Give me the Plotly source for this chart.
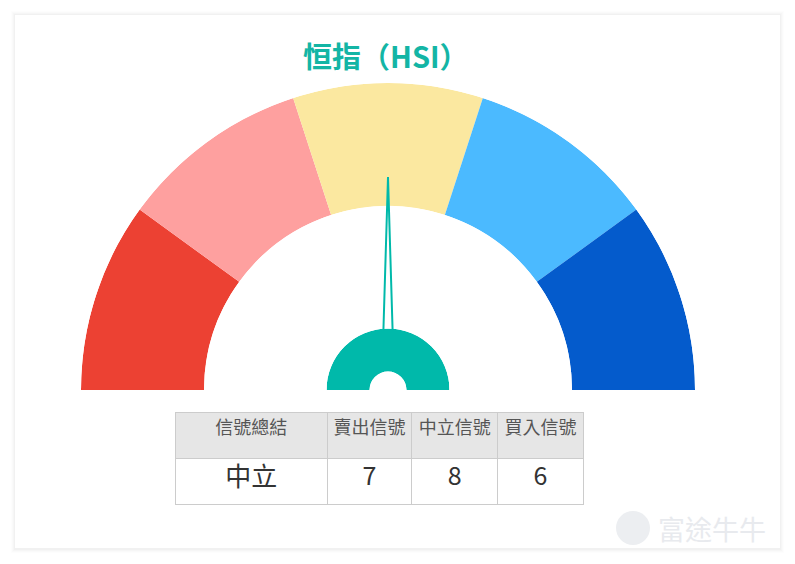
import math
import plotly.graph_objects as go

# ---- data ----
zones = ["強烈賣出", "賣出", "中立", "買入", "強烈買入"]
zone_colors = ["#ec4133", "#fea09f", "#fbe8a0", "#4bbaff", "#045bcc"]
zone_span = [20, 20, 20, 20, 20]          # gauge scale 0-100, five equal zones
gauge_value = 50                           # needle position on 0-100
title_text = "恒指（HSI）"
table_header = ["信號總結", "賣出信號", "中立信號", "買入信號"]
table_values = ["中立", "7", "8", "6"]

# page is offset 8px by the browser's default body margin
OFF = 8
W, H = 795 - OFF, 564 - OFF

def X(p):
    return (p - OFF) / W

def Y(p):
    return 1 - (p - OFF) / H

cx, cy = 388, 390
R_out, R_in = 307, 184
hub_out, hub_in = 61.5, 18.5
needle_len, needle_base_r, needle_half = 213, 60, 4.6
teal = "#00b9aa"

def dom_x(a, b):
    return [X(a), X(b)]

def dom_y(top, bottom):
    return [Y(bottom), Y(top)]

# value -> angle (0 -> 180deg on the left, 100 -> 0deg on the right)
def v2theta(v):
    return 180 - v * 180 / 100

starts = [sum(zone_span[:i]) for i in range(len(zone_span))]
thetas = [v2theta(s + w / 2) for s, w in zip(starts, zone_span)]
widths = [w * 180 / 100 for w in zone_span]

fig = go.Figure()

fig.add_trace(go.Barpolar(
    r=[1] * len(zones), theta=thetas, width=widths,
    marker=dict(color=zone_colors, line=dict(width=0)),
    subplot="polar", hoverinfo="text", text=zones, showlegend=False))

# hub
fig.add_trace(go.Barpolar(
    r=[1], theta=[90], width=[180],
    marker=dict(color=teal, line=dict(width=0)),
    subplot="polar2", hoverinfo="skip", showlegend=False))

# needle (outlined thin triangle)
nt = v2theta(gauge_value)
dth = math.degrees(math.atan(needle_half / needle_base_r))
fig.add_trace(go.Scatterpolar(
    r=[needle_base_r, needle_len, needle_base_r],
    theta=[nt + dth, nt, nt - dth],
    mode="lines", line=dict(color=teal, width=2),
    subplot="polar3", hoverinfo="skip", showlegend=False))

def hidden_polar(domx, domy, hole, rng):
    return dict(
        domain=dict(x=domx, y=domy), sector=[0, 180], hole=hole,
        bgcolor="rgba(0,0,0,0)",
        radialaxis=dict(visible=False, range=rng, showgrid=False),
        angularaxis=dict(visible=False, showgrid=False, rotation=0,
                         direction="counterclockwise"),
    )

fig.update_layout(
    polar=hidden_polar(dom_x(cx - R_out, cx + R_out), dom_y(cy - R_out, cy),
                       R_in / R_out, [0, 1]),
    polar2=hidden_polar(dom_x(cx - hub_out, cx + hub_out), dom_y(cy - hub_out, cy),
                        hub_in / hub_out, [0, 1]),
    polar3=hidden_polar(dom_x(cx - R_out, cx + R_out), dom_y(cy - R_out, cy),
                        0, [0, R_out]),
)

# table
fig.add_trace(go.Table(
    domain=dict(x=dom_x(175, 583), y=dom_y(412, 510)),
    columnwidth=[152, 84, 86, 85],
    header=dict(values=table_header, fill_color="#e6e6e6",
                line=dict(color="#cccccc", width=1), align="center", height=46,
                font=dict(size=18, color="#555555", family="Noto Sans CJK TC")),
    cells=dict(values=[[v] for v in table_values], fill_color="white",
               line=dict(color="#cccccc", width=1), align="center", height=46,
               font=dict(size=[26, 25, 25, 25], color="#333333", family="Noto Sans CJK TC")),
))

shapes = []
# soft card shadow
for i, a in enumerate([0.008, 0.011, 0.015, 0.02]):
    d = 4 - i
    shapes.append(dict(type="rect", xref="paper", yref="paper", layer="below",
                       x0=X(15 - d), x1=X(780 + d),
                       y0=Y(549 + d), y1=Y(15 - d),
                       fillcolor=f"rgba(0,0,0,{a})", line=dict(width=0)))
shapes.append(dict(type="rect", xref="paper", yref="paper", layer="below",
                   x0=X(15), x1=X(780), y0=Y(548), y1=Y(15),
                   fillcolor="white", line=dict(width=0)))
# watermark logo
shapes.append(dict(type="circle", xref="paper", yref="paper", layer="above",
                   x0=X(616), x1=X(650), y0=Y(545), y1=Y(511),
                   fillcolor="#eceef1", line=dict(width=0)))

annotations = [
    dict(text=f"<b>{title_text}</b>", x=X(cx - 2), y=Y(55), xref="paper", yref="paper",
         showarrow=False, xanchor="center", yanchor="middle",
         font=dict(size=29, color="#13b5a5", family="Noto Sans CJK TC")),
    dict(text="富途牛牛", x=X(656), y=Y(528), xref="paper", yref="paper",
         showarrow=False, xanchor="left", yanchor="middle",
         font=dict(size=27, color="#e8eaee", family="Noto Sans CJK TC")),
]

fig.update_layout(width=W, height=H, margin=dict(l=0, r=0, t=0, b=0),
                  paper_bgcolor="white", plot_bgcolor="white",
                  shapes=shapes, annotations=annotations, showlegend=False)

fig.write_html("out.html")
